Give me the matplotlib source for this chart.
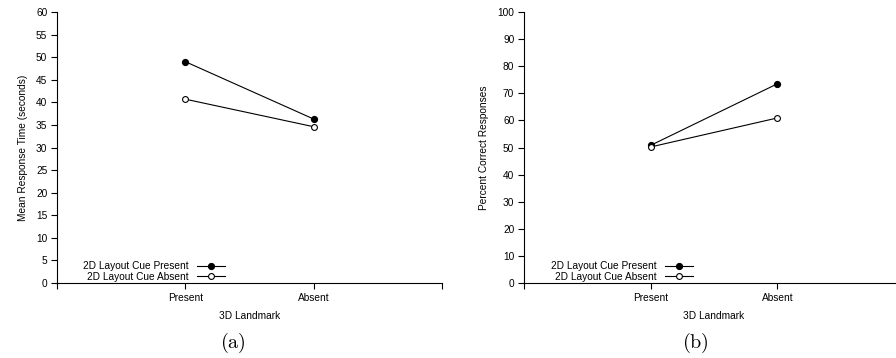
import matplotlib
matplotlib.use('Agg')
import matplotlib.pyplot as plt
import numpy as np

# data
categories = ['Present', 'Absent']
series_labels = ['2D Layout Cue Present', '2D Layout Cue Absent']
time_cue_present = [49.0, 36.3]
time_cue_absent = [40.7, 34.6]
correct_cue_present = [50.8, 73.5]
correct_cue_absent = [50.2, 60.9]

plt.rcParams['font.family'] = ['Liberation Sans', 'DejaVu Sans']
plt.rcParams['mathtext.fontset'] = 'cm'

W, H = 896, 358
fig = plt.figure(figsize=(W / 100, H / 100), dpi=100)


def px_axes(left, top, width, height):
    return fig.add_axes([left / W, 1 - (top + height) / H, width / W, height / H])


def draw_panel(ax, present, absent, ymax, ystep, ylabel, leg_x):
    x = np.arange(1, len(categories) + 1)
    ax.plot(x, present, '-', color='black', lw=0.8, marker='o', ms=4.2,
            mfc='black', mec='black', label=series_labels[0])
    ax.plot(x, absent, '-', color='black', lw=0.8, marker='o', ms=4.2,
            mfc='white', mec='black', mew=0.8, label=series_labels[1])
    ax.set_xlim(0, 3)
    ax.set_ylim(0, ymax)
    ax.set_xticks([0, 1, 2, 3])
    ax.set_xticklabels([''] + categories + [''])
    ax.set_yticks(np.arange(0, ymax + 1, ystep))
    for s in ['top', 'right']:
        ax.spines[s].set_visible(False)
    for s in ['left', 'bottom']:
        ax.spines[s].set_linewidth(0.8)
    ax.tick_params(direction='out', length=4, width=0.8, labelsize=7.3, pad=3)
    ax.set_xlabel('3D Landmark', fontsize=7.3, labelpad=6)
    ax.set_ylabel(ylabel, fontsize=7.3, labelpad=6)
    ax.legend(loc='lower right', bbox_to_anchor=(leg_x, 0.005), frameon=False,
              markerfirst=False, fontsize=7.3, handlelength=2.8, handletextpad=0.8,
              labelspacing=0.05, borderpad=0, borderaxespad=0)


ax1 = px_axes(57, 12, 385, 271)
draw_panel(ax1, time_cue_present, time_cue_absent, 60, 5,
           'Mean Response Time (seconds)', 0.437)

ax2 = px_axes(524, 12, 380, 271)
draw_panel(ax2, correct_cue_present, correct_cue_absent, 100, 10,
           'Percent Correct Responses', 0.445)

fig.text(233 / W, 1 - 343 / H, r'$\mathrm{(a)}$', fontsize=14.5, ha='center', va='center')
fig.text(695 / W, 1 - 343 / H, r'$\mathrm{(b)}$', fontsize=14.5, ha='center', va='center')

fig.savefig('out.png', dpi=100)
